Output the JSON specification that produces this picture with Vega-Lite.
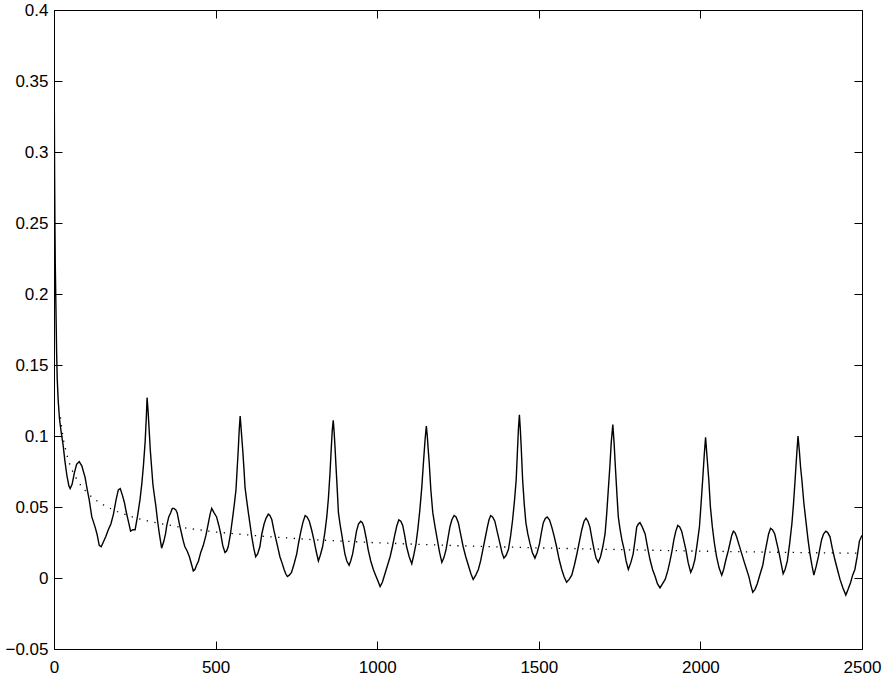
{
  "$schema": "https://vega.github.io/schema/vega-lite/v6.json",
  "width": 808,
  "height": 639,
  "autosize": "none",
  "padding": {"left": 54, "top": 10, "right": 30, "bottom": 29},
  "background": "white",
  "config": {
    "view": {"stroke": "black", "strokeWidth": 1},
    "axis": {
      "labelFont": "Liberation Sans",
      "labelFontSize": 17,
      "labelColor": "black",
      "tickColor": "black",
      "tickSize": -8,
      "tickWidth": 1,
      "domain": false,
      "grid": false,
      "title": null
    }
  },
  "datasets": {
    "main": [
      {"x":0,"y":0.40},{"x":1,"y":0.33},{"x":2,"y":0.28},{"x":3,"y":0.245},{"x":4,"y":0.22},{"x":6,"y":0.19},{"x":8,"y":0.16},{"x":10,"y":0.14},{"x":13,"y":0.125},{"x":17,"y":0.112},{"x":22,"y":0.103},{"x":28,"y":0.094},{"x":34,"y":0.082},{"x":40,"y":0.072},{"x":46,"y":0.065},{"x":50,"y":0.063},{"x":56,"y":0.066},{"x":63,"y":0.074},{"x":70,"y":0.080},{"x":78,"y":0.082},{"x":86,"y":0.079},{"x":96,"y":0.071},{"x":103,"y":0.062},{"x":109,"y":0.055},{"x":117,"y":0.043},{"x":127,"y":0.036},{"x":133,"y":0.031},{"x":140,"y":0.023},{"x":146,"y":0.022},{"x":152,"y":0.025},{"x":160,"y":0.029},{"x":168,"y":0.034},{"x":176,"y":0.038},{"x":184,"y":0.045},{"x":192,"y":0.055},{"x":199,"y":0.062},{"x":205,"y":0.063},{"x":212,"y":0.058},{"x":218,"y":0.053},{"x":223,"y":0.047},{"x":230,"y":0.040},{"x":237,"y":0.033},{"x":244,"y":0.034},{"x":251,"y":0.034},{"x":258,"y":0.043},{"x":266,"y":0.055},{"x":272,"y":0.067},{"x":277,"y":0.080},{"x":282,"y":0.096},{"x":286,"y":0.115},{"x":288,"y":0.127},{"x":291,"y":0.118},{"x":294,"y":0.106},{"x":298,"y":0.090},{"x":302,"y":0.078},{"x":306,"y":0.066},{"x":310,"y":0.059},{"x":315,"y":0.051},{"x":320,"y":0.041},{"x":326,"y":0.031},{"x":333,"y":0.021},{"x":340,"y":0.026},{"x":345,"y":0.031},{"x":349,"y":0.037},{"x":355,"y":0.043},{"x":361,"y":0.046},{"x":366,"y":0.049},{"x":371,"y":0.049},{"x":377,"y":0.048},{"x":381,"y":0.046},{"x":388,"y":0.038},{"x":395,"y":0.031},{"x":400,"y":0.026},{"x":405,"y":0.022},{"x":412,"y":0.019},{"x":419,"y":0.015},{"x":425,"y":0.010},{"x":431,"y":0.005},{"x":436,"y":0.006},{"x":441,"y":0.009},{"x":447,"y":0.012},{"x":454,"y":0.018},{"x":462,"y":0.023},{"x":470,"y":0.030},{"x":477,"y":0.038},{"x":483,"y":0.045},{"x":488,"y":0.049},{"x":495,"y":0.046},{"x":503,"y":0.043},{"x":510,"y":0.037},{"x":516,"y":0.031},{"x":522,"y":0.023},{"x":529,"y":0.018},{"x":534,"y":0.019},{"x":539,"y":0.022},{"x":546,"y":0.031},{"x":553,"y":0.043},{"x":558,"y":0.052},{"x":563,"y":0.062},{"x":567,"y":0.078},{"x":570,"y":0.090},{"x":573,"y":0.104},{"x":576,"y":0.114},{"x":579,"y":0.105},{"x":584,"y":0.090},{"x":588,"y":0.076},{"x":591,"y":0.064},{"x":596,"y":0.055},{"x":602,"y":0.045},{"x":607,"y":0.037},{"x":612,"y":0.029},{"x":618,"y":0.021},{"x":624,"y":0.015},{"x":630,"y":0.017},{"x":637,"y":0.022},{"x":643,"y":0.031},{"x":650,"y":0.038},{"x":656,"y":0.042},{"x":663,"y":0.045},{"x":668,"y":0.044},{"x":674,"y":0.041},{"x":680,"y":0.034},{"x":687,"y":0.027},{"x":693,"y":0.021},{"x":699,"y":0.015},{"x":705,"y":0.011},{"x":712,"y":0.006},{"x":717,"y":0.003},{"x":722,"y":0.001},{"x":728,"y":0.002},{"x":735,"y":0.004},{"x":743,"y":0.010},{"x":751,"y":0.017},{"x":757,"y":0.025},{"x":764,"y":0.033},{"x":770,"y":0.039},{"x":777,"y":0.044},{"x":783,"y":0.043},{"x":790,"y":0.040},{"x":797,"y":0.034},{"x":804,"y":0.027},{"x":811,"y":0.019},{"x":818,"y":0.012},{"x":824,"y":0.016},{"x":831,"y":0.022},{"x":838,"y":0.032},{"x":844,"y":0.043},{"x":849,"y":0.056},{"x":854,"y":0.074},{"x":858,"y":0.092},{"x":861,"y":0.104},{"x":864,"y":0.111},{"x":867,"y":0.102},{"x":870,"y":0.090},{"x":872,"y":0.081},{"x":876,"y":0.064},{"x":880,"y":0.046},{"x":885,"y":0.038},{"x":890,"y":0.031},{"x":895,"y":0.024},{"x":900,"y":0.017},{"x":906,"y":0.012},{"x":913,"y":0.009},{"x":918,"y":0.012},{"x":924,"y":0.017},{"x":930,"y":0.025},{"x":936,"y":0.033},{"x":942,"y":0.038},{"x":949,"y":0.040},{"x":954,"y":0.039},{"x":959,"y":0.036},{"x":966,"y":0.028},{"x":972,"y":0.020},{"x":980,"y":0.012},{"x":988,"y":0.006},{"x":995,"y":0.002},{"x":1002,"y":-0.002},{"x":1009,"y":-0.006},{"x":1016,"y":-0.003},{"x":1024,"y":0.003},{"x":1032,"y":0.009},{"x":1040,"y":0.015},{"x":1047,"y":0.022},{"x":1055,"y":0.031},{"x":1061,"y":0.037},{"x":1067,"y":0.041},{"x":1073,"y":0.040},{"x":1079,"y":0.037},{"x":1085,"y":0.030},{"x":1091,"y":0.022},{"x":1099,"y":0.015},{"x":1107,"y":0.010},{"x":1113,"y":0.016},{"x":1120,"y":0.024},{"x":1126,"y":0.035},{"x":1132,"y":0.048},{"x":1138,"y":0.064},{"x":1143,"y":0.081},{"x":1148,"y":0.097},{"x":1152,"y":0.107},{"x":1155,"y":0.100},{"x":1158,"y":0.090},{"x":1161,"y":0.081},{"x":1166,"y":0.062},{"x":1172,"y":0.046},{"x":1179,"y":0.036},{"x":1186,"y":0.027},{"x":1193,"y":0.018},{"x":1200,"y":0.011},{"x":1206,"y":0.014},{"x":1213,"y":0.020},{"x":1219,"y":0.028},{"x":1225,"y":0.036},{"x":1231,"y":0.041},{"x":1238,"y":0.044},{"x":1244,"y":0.043},{"x":1251,"y":0.039},{"x":1258,"y":0.031},{"x":1266,"y":0.022},{"x":1274,"y":0.015},{"x":1282,"y":0.009},{"x":1290,"y":0.003},{"x":1297,"y":-0.001},{"x":1305,"y":0.002},{"x":1313,"y":0.006},{"x":1320,"y":0.012},{"x":1326,"y":0.019},{"x":1334,"y":0.028},{"x":1341,"y":0.036},{"x":1346,"y":0.041},{"x":1351,"y":0.044},{"x":1357,"y":0.043},{"x":1364,"y":0.040},{"x":1372,"y":0.032},{"x":1380,"y":0.024},{"x":1386,"y":0.018},{"x":1392,"y":0.014},{"x":1399,"y":0.016},{"x":1406,"y":0.020},{"x":1413,"y":0.030},{"x":1419,"y":0.041},{"x":1425,"y":0.055},{"x":1430,"y":0.069},{"x":1434,"y":0.090},{"x":1437,"y":0.105},{"x":1440,"y":0.115},{"x":1443,"y":0.104},{"x":1446,"y":0.090},{"x":1450,"y":0.069},{"x":1455,"y":0.052},{"x":1460,"y":0.039},{"x":1466,"y":0.031},{"x":1473,"y":0.024},{"x":1480,"y":0.018},{"x":1488,"y":0.014},{"x":1495,"y":0.018},{"x":1502,"y":0.024},{"x":1508,"y":0.032},{"x":1514,"y":0.039},{"x":1520,"y":0.042},{"x":1526,"y":0.043},{"x":1533,"y":0.041},{"x":1540,"y":0.036},{"x":1548,"y":0.029},{"x":1555,"y":0.022},{"x":1563,"y":0.013},{"x":1571,"y":0.006},{"x":1578,"y":0.001},{"x":1586,"y":-0.003},{"x":1594,"y":-0.001},{"x":1602,"y":0.002},{"x":1610,"y":0.009},{"x":1617,"y":0.016},{"x":1625,"y":0.025},{"x":1633,"y":0.034},{"x":1640,"y":0.040},{"x":1646,"y":0.042},{"x":1652,"y":0.040},{"x":1658,"y":0.036},{"x":1665,"y":0.027},{"x":1671,"y":0.020},{"x":1677,"y":0.014},{"x":1684,"y":0.011},{"x":1691,"y":0.015},{"x":1698,"y":0.022},{"x":1705,"y":0.031},{"x":1710,"y":0.045},{"x":1715,"y":0.062},{"x":1720,"y":0.079},{"x":1724,"y":0.095},{"x":1729,"y":0.108},{"x":1733,"y":0.095},{"x":1737,"y":0.078},{"x":1742,"y":0.058},{"x":1746,"y":0.043},{"x":1751,"y":0.035},{"x":1757,"y":0.027},{"x":1764,"y":0.020},{"x":1770,"y":0.012},{"x":1777,"y":0.006},{"x":1785,"y":0.011},{"x":1792,"y":0.017},{"x":1798,"y":0.027},{"x":1803,"y":0.036},{"x":1808,"y":0.038},{"x":1813,"y":0.039},{"x":1820,"y":0.036},{"x":1829,"y":0.031},{"x":1837,"y":0.021},{"x":1844,"y":0.013},{"x":1852,"y":0.006},{"x":1860,"y":0.001},{"x":1867,"y":-0.004},{"x":1875,"y":-0.007},{"x":1883,"y":-0.004},{"x":1891,"y":-0.001},{"x":1899,"y":0.005},{"x":1906,"y":0.012},{"x":1912,"y":0.019},{"x":1918,"y":0.027},{"x":1924,"y":0.033},{"x":1930,"y":0.037},{"x":1936,"y":0.036},{"x":1942,"y":0.033},{"x":1948,"y":0.027},{"x":1955,"y":0.020},{"x":1962,"y":0.011},{"x":1970,"y":0.004},{"x":1976,"y":0.007},{"x":1983,"y":0.013},{"x":1990,"y":0.024},{"x":1997,"y":0.036},{"x":2002,"y":0.052},{"x":2007,"y":0.069},{"x":2012,"y":0.087},{"x":2016,"y":0.099},{"x":2020,"y":0.087},{"x":2026,"y":0.069},{"x":2031,"y":0.050},{"x":2037,"y":0.036},{"x":2043,"y":0.025},{"x":2050,"y":0.015},{"x":2058,"y":0.007},{"x":2066,"y":0.002},{"x":2072,"y":0.006},{"x":2079,"y":0.013},{"x":2086,"y":0.019},{"x":2092,"y":0.025},{"x":2097,"y":0.030},{"x":2102,"y":0.033},{"x":2107,"y":0.032},{"x":2112,"y":0.029},{"x":2120,"y":0.023},{"x":2128,"y":0.017},{"x":2136,"y":0.011},{"x":2143,"y":0.006},{"x":2150,"y":0.001},{"x":2156,"y":-0.005},{"x":2162,"y":-0.010},{"x":2169,"y":-0.008},{"x":2176,"y":-0.004},{"x":2185,"y":0.003},{"x":2193,"y":0.009},{"x":2199,"y":0.017},{"x":2205,"y":0.024},{"x":2211,"y":0.031},{"x":2217,"y":0.035},{"x":2223,"y":0.034},{"x":2230,"y":0.031},{"x":2237,"y":0.024},{"x":2244,"y":0.017},{"x":2250,"y":0.010},{"x":2256,"y":0.003},{"x":2262,"y":0.006},{"x":2269,"y":0.012},{"x":2276,"y":0.024},{"x":2283,"y":0.038},{"x":2288,"y":0.052},{"x":2293,"y":0.069},{"x":2298,"y":0.087},{"x":2302,"y":0.100},{"x":2306,"y":0.090},{"x":2310,"y":0.078},{"x":2314,"y":0.069},{"x":2320,"y":0.053},{"x":2327,"y":0.039},{"x":2333,"y":0.027},{"x":2339,"y":0.017},{"x":2345,"y":0.009},{"x":2351,"y":0.002},{"x":2358,"y":0.008},{"x":2365,"y":0.015},{"x":2370,"y":0.021},{"x":2375,"y":0.027},{"x":2381,"y":0.031},{"x":2388,"y":0.033},{"x":2394,"y":0.032},{"x":2401,"y":0.029},{"x":2408,"y":0.021},{"x":2416,"y":0.013},{"x":2424,"y":0.006},{"x":2432,"y":-0.001},{"x":2441,"y":-0.007},{"x":2450,"y":-0.012},{"x":2457,"y":-0.008},{"x":2465,"y":-0.003},{"x":2471,"y":0.002},{"x":2478,"y":0.006},{"x":2485,"y":0.015},{"x":2492,"y":0.026},{"x":2500,"y":0.030}
    ],
    "trend": [
      {"x":20,"y":0.1131},{"x":25,"y":0.1037},{"x":30,"y":0.0966},{"x":40,"y":0.0864},{"x":50,"y":0.0793},{"x":60,"y":0.0739},{"x":75,"y":0.0677},{"x":90,"y":0.0631},{"x":110,"y":0.0584},{"x":130,"y":0.0547},{"x":160,"y":0.0505},{"x":200,"y":0.0463},{"x":250,"y":0.0424},{"x":300,"y":0.0396},{"x":400,"y":0.0354},{"x":500,"y":0.0324},{"x":650,"y":0.0293},{"x":800,"y":0.0270},{"x":1000,"y":0.0248},{"x":1250,"y":0.0227},{"x":1500,"y":0.0212},{"x":1750,"y":0.0200},{"x":2000,"y":0.0189},{"x":2250,"y":0.0181},{"x":2500,"y":0.0174}
    ]
  },
  "layer": [
    {
      "data": {"name": "main"},
      "mark": {"type": "line", "color": "black", "strokeWidth": 1.4, "clip": true},
      "encoding": {
        "x": {"field": "x", "type": "quantitative",
              "scale": {"domain": [0, 2500], "nice": false, "zero": false},
              "axis": {"orient": "bottom", "values": [0, 500, 1000, 1500, 2000, 2500], "format": "d", "labelPadding": 18, "labelFlush": false, "labelOverlap": false}},
        "y": {"field": "y", "type": "quantitative",
              "scale": {"domain": [-0.05, 0.4], "nice": false, "zero": false},
              "axis": {"orient": "left", "values": [-0.05, 0, 0.05, 0.1, 0.15, 0.2, 0.25, 0.3, 0.35, 0.4], "format": "~g", "labelPadding": 14, "labelFlush": false, "labelOverlap": false}}
      }
    },
    {
      "data": {"name": "trend"},
      "mark": {"type": "line", "color": "black", "strokeWidth": 1.3, "strokeDash": [1.3, 6.5]},
      "encoding": {
        "x": {"field": "x", "type": "quantitative",
              "axis": {"orient": "top", "values": [0, 500, 1000, 1500, 2000, 2500], "labels": false}},
        "y": {"field": "y", "type": "quantitative",
              "axis": {"orient": "right", "values": [-0.05, 0, 0.05, 0.1, 0.15, 0.2, 0.25, 0.3, 0.35, 0.4], "labels": false}}
      }
    }
  ],
  "resolve": {"axis": {"x": "independent", "y": "independent"}}
}
